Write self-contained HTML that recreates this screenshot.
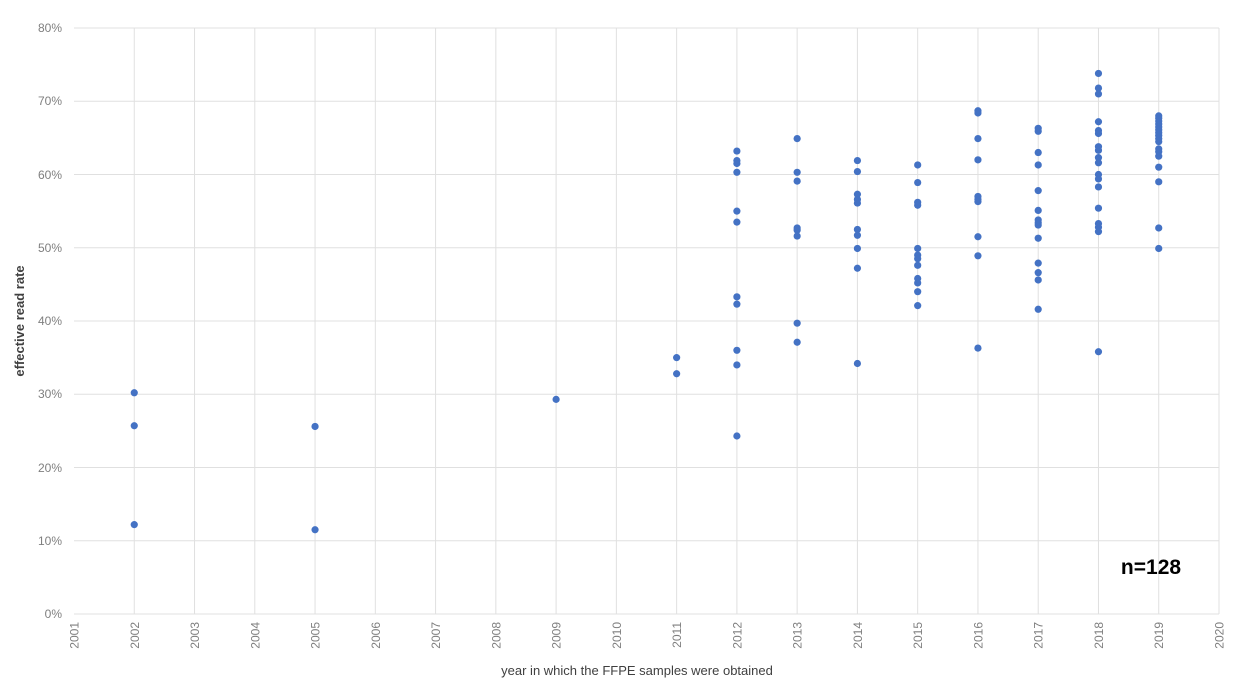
<!DOCTYPE html>
<html><head><meta charset="utf-8"><style>
html,body{margin:0;padding:0;background:#fff;}
svg{display:block;font-family:"Liberation Sans",sans-serif;}
</style></head><body>
<svg id="s" width="1245" height="682" xmlns="http://www.w3.org/2000/svg">
<g stroke="#e0e0e0" stroke-width="1">
<line x1="74" x2="1219" y1="540.8" y2="540.8"/><line x1="74" x2="1219" y1="467.5" y2="467.5"/>
<line x1="74" x2="1219" y1="394.3" y2="394.3"/><line x1="74" x2="1219" y1="321" y2="321"/>
<line x1="74" x2="1219" y1="247.8" y2="247.8"/><line x1="74" x2="1219" y1="174.5" y2="174.5"/>
<line x1="74" x2="1219" y1="101.3" y2="101.3"/><line x1="74" x2="1219" y1="28" y2="28"/>
<line x1="74" x2="1219" y1="614" y2="614"/>
</g>
<g id="vg" stroke="#e0e0e0" stroke-width="1"></g>
<g fill="#7f7f7f" font-size="12" text-anchor="end">
<text x="62" y="618">0%</text><text x="62" y="545">10%</text><text x="62" y="472">20%</text>
<text x="62" y="398">30%</text><text x="62" y="325">40%</text><text x="62" y="252">50%</text>
<text x="62" y="179">60%</text><text x="62" y="105">70%</text><text x="62" y="32">80%</text>
</g>
<g fill="#7f7f7f" font-size="12" text-anchor="end">
<text transform="translate(78.5,622) rotate(-90)">2001</text>
<text transform="translate(138.8,622) rotate(-90)">2002</text>
<text transform="translate(199,622) rotate(-90)">2003</text>
<text transform="translate(259.3,622) rotate(-90)">2004</text>
<text transform="translate(319.6,622) rotate(-90)">2005</text>
<text transform="translate(379.8,622) rotate(-90)">2006</text>
<text transform="translate(440.1,622) rotate(-90)">2007</text>
<text transform="translate(500.3,622) rotate(-90)">2008</text>
<text transform="translate(560.6,622) rotate(-90)">2009</text>
<text transform="translate(620.9,622) rotate(-90)">2010</text>
<text transform="translate(681.1,622) rotate(-90)">2011</text>
<text transform="translate(741.4,622) rotate(-90)">2012</text>
<text transform="translate(801.7,622) rotate(-90)">2013</text>
<text transform="translate(861.9,622) rotate(-90)">2014</text>
<text transform="translate(922.2,622) rotate(-90)">2015</text>
<text transform="translate(982.5,622) rotate(-90)">2016</text>
<text transform="translate(1042.7,622) rotate(-90)">2017</text>
<text transform="translate(1103,622) rotate(-90)">2018</text>
<text transform="translate(1163.2,622) rotate(-90)">2019</text>
<text transform="translate(1223.5,622) rotate(-90)">2020</text>
</g>
<text x="637" y="675" fill="#404040" font-size="13" text-anchor="middle">year in which the FFPE samples were obtained</text>
<text transform="translate(24,321) rotate(-90)" fill="#404040" font-size="13" font-weight="bold" text-anchor="middle">effective read rate</text>
<text x="1151" y="574" fill="#000" font-size="21" font-weight="bold" text-anchor="middle">n=128</text>
<g id="pts" fill="#4472c4"></g>
</svg>
<script>
var vg=document.getElementById('vg');
for(var k=1;k<=19;k++){var x=74+60.263*k;var l=document.createElementNS('http://www.w3.org/2000/svg','line');l.setAttribute('x1',x);l.setAttribute('x2',x);l.setAttribute('y1',28);l.setAttribute('y2',614);vg.appendChild(l);}
var d={2002:[30.2,25.7,12.2],2005:[25.6,11.5],2009:[29.3],2011:[35.0,32.8],
2012:[63.2,61.9,61.5,60.3,55.0,53.5,43.3,42.3,36.0,34.0,24.3],
2013:[64.9,60.3,59.1,52.7,52.4,51.6,39.7,37.1],
2014:[61.9,60.4,57.3,56.6,56.1,52.5,51.7,49.9,47.2,34.2],
2015:[61.3,58.9,56.2,55.8,49.9,49.0,48.5,47.6,45.8,45.2,44.0,42.1],
2016:[68.7,68.4,64.9,62.0,57.0,56.6,56.3,51.5,48.9,36.3],
2017:[66.3,65.9,63.0,61.3,57.8,55.1,53.8,53.4,53.1,51.3,47.9,46.6,45.6,41.6],
2018:[73.8,71.8,71.0,67.2,66.0,65.6,63.8,63.3,62.3,61.6,60.0,59.4,58.3,55.4,53.3,52.8,52.2,35.8],
2019:[68.0,67.7,67.3,66.9,66.5,66.1,65.7,65.3,64.9,64.5,63.5,63.1,62.5,61.0,59.0,52.7,49.9]};
var g=document.getElementById('pts');
for(var y in d){d[y].forEach(function(p){var c=document.createElementNS('http://www.w3.org/2000/svg','circle');c.setAttribute('cx',74+(y-2001)*60.263);c.setAttribute('cy',614-p*7.325);c.setAttribute('r',3.6);g.appendChild(c);});}
</script>
</body></html>
